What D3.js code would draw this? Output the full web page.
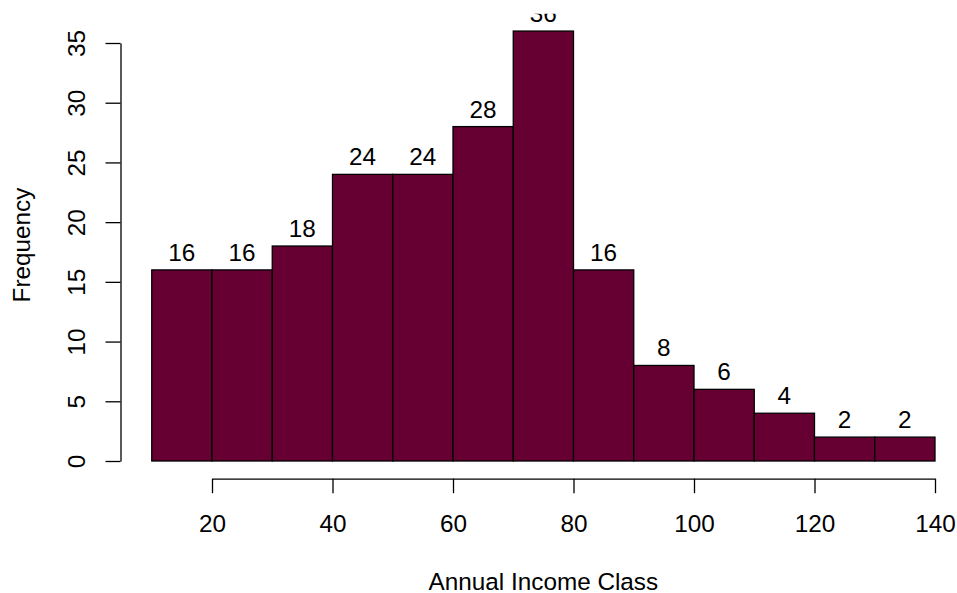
<!DOCTYPE html>
<html>
<head>
<meta charset="utf-8">
<script src="https://cdn.jsdelivr.net/npm/d3@7"></script>
<style>
  body { margin: 0; background: #fff; }
  svg { display: block; }
  text { font-family: "Liberation Sans", Arial, sans-serif; fill: #000; }
</style>
</head>
<body>
<svg width="957" height="593"></svg>
<script>
// histogram data: class breaks and counts
var breaks = [10, 20, 30, 40, 50, 60, 70, 80, 90, 100, 110, 120, 130, 140];
var counts = [16, 16, 18, 24, 24, 28, 36, 16, 8, 6, 4, 2, 2];
var xTicks = [20, 40, 60, 80, 100, 120, 140];
var yTicks = [0, 5, 10, 15, 20, 25, 30, 35];

var barColor = '#660033';
var fontSize = 24.3;

var svg = d3.select('svg');

var x = d3.scaleLinear().domain([20, 140]).range([212, 935]);
var y = d3.scaleLinear().domain([0, 35]).range([461, 43]);

var bins = counts.map(function(c, i){
	return {x0: breaks[i], x1: breaks[i + 1], n: c};
});

// plot region (R extends the ranges by 4%), labels get clipped to it
var xr = [10 - 5.2, 140 + 5.2];
var yr = [-1.44, 37.44];
svg.append('clipPath')
	.attr('id', 'plotclip')
	.append('rect')
	.attr('x', x(xr[0]))
	.attr('y', y(yr[1]))
	.attr('width', x(xr[1]) - x(xr[0]))
	.attr('height', y(yr[0]) - y(yr[1]));

// bars
svg.selectAll('rect.bar')
	.data(bins)
	.enter()
	.append('rect')
	.attr('class', 'bar')
	.attr('x', function(d){ return x(d.x0); })
	.attr('y', function(d){ return y(d.n); })
	.attr('width', function(d){ return x(d.x1) - x(d.x0); })
	.attr('height', function(d){ return y(0) - y(d.n); })
	.attr('fill', barColor)
	.attr('stroke', '#000')
	.attr('stroke-width', 1.3);

// count labels above bars
svg.append('g')
	.attr('clip-path', 'url(#plotclip)')
	.selectAll('text.count')
	.data(bins)
	.enter()
	.append('text')
	.attr('class', 'count')
	.attr('x', function(d){ return x((d.x0 + d.x1) / 2); })
	.attr('y', function(d){ return y(d.n) - 9; })
	.attr('text-anchor', 'middle')
	.style('font-size', fontSize + 'px')
	.text(function(d){ return d.n; });

// x axis, offset below the bars like base R
var xAxis = svg.append('g')
	.attr('transform', 'translate(0,478.7)')
	.call(d3.axisBottom(x).tickValues(xTicks).tickSize(14.5).tickSizeOuter(0).tickFormat(d3.format('d')));

xAxis.selectAll('text')
	.attr('y', 53)
	.attr('dy', 0)
	.style('font-size', fontSize + 'px')
	.style('font-family', '"Liberation Sans", Arial, sans-serif')
	.attr('fill', '#000');

// y axis with rotated labels
var yAxis = svg.append('g')
	.attr('transform', 'translate(120.5,0)')
	.call(d3.axisLeft(y).tickValues(yTicks).tickSize(15).tickSizeOuter(0));

yAxis.selectAll('text')
	.attr('transform', 'rotate(-90)')
	.attr('x', 0)
	.attr('y', -35.5)
	.attr('dy', 0)
	.attr('text-anchor', 'middle')
	.style('font-size', fontSize + 'px')
	.style('font-family', '"Liberation Sans", Arial, sans-serif')
	.attr('fill', '#000');

svg.selectAll('.domain, .tick line')
	.attr('stroke', '#000')
	.attr('stroke-width', 1.3);

// axis titles
svg.append('text')
	.attr('x', x(75))
	.attr('y', 590)
	.attr('text-anchor', 'middle')
	.style('font-size', fontSize + 'px')
	.text('Annual Income Class');

svg.append('text')
	.attr('transform', 'translate(30,245) rotate(-90)')
	.attr('text-anchor', 'middle')
	.style('font-size', fontSize + 'px')
	.text('Frequency');
</script>
</body>
</html>
